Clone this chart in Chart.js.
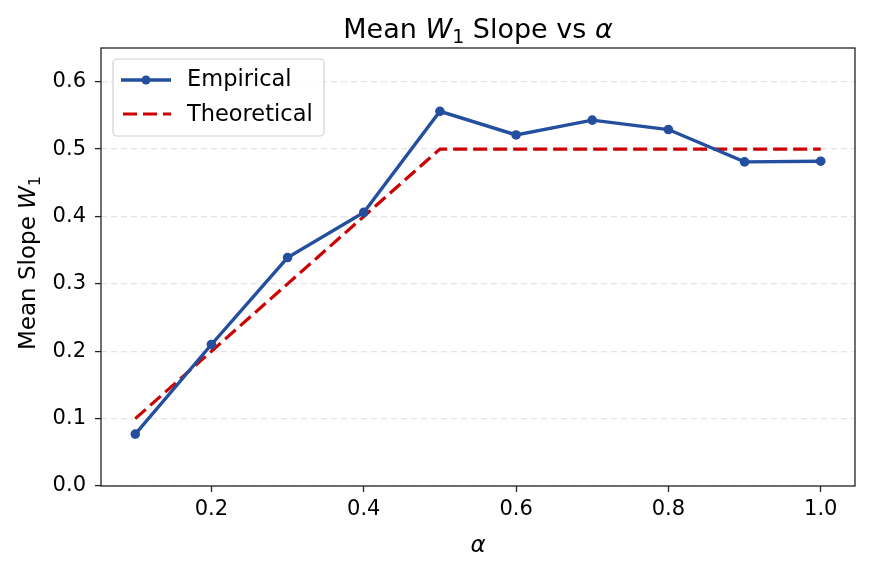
<!DOCTYPE html>
<html lang="en">
<head>
  <meta charset="UTF-8" />
  <title>Mean W1 Slope vs alpha</title>
  <script src="https://cdn.jsdelivr.net/npm/chart.js"></script>
  <style>
    html, body { margin: 0; padding: 0; background: #fff; }
  </style>
</head>
<body>
  <canvas id="chart" width="871" height="571"></canvas>

  <script>
    const alphas = [0.1, 0.2, 0.3, 0.4, 0.5, 0.6, 0.7, 0.8, 0.9, 1.0];
    const empirical = [0.077, 0.210, 0.339, 0.406, 0.556, 0.521, 0.543, 0.529, 0.481, 0.482];
    const theoretical = [0.1, 0.2, 0.3, 0.4, 0.5, 0.5, 0.5, 0.5, 0.5, 0.5];
    const xTicks = [0.2, 0.4, 0.6, 0.8, 1.0];
    const yTicks = [0.0, 0.1, 0.2, 0.3, 0.4, 0.5, 0.6];

    const FONT = "'DejaVu Sans', sans-serif";
    const BLUE = '#234f9e';
    const RED = '#cc0000';

    // draw text made of pieces with different styles (italic, subscript)
    function drawRich(ctx, parts, x, y, rot) {
      ctx.save();
      let total = 0;
      parts.forEach(p => {
        ctx.font = (p.i ? 'italic ' : '') + p.s + 'px ' + FONT;
        p.w = ctx.measureText(p.t).width;
        total += p.w;
      });
      ctx.translate(x, y);
      if (rot) ctx.rotate(rot);
      ctx.textBaseline = 'alphabetic';
      ctx.fillStyle = '#000';
      let cx = -total / 2;
      parts.forEach(p => {
        ctx.font = (p.i ? 'italic ' : '') + p.s + 'px ' + FONT;
        ctx.fillText(p.t, cx, p.dy || 0);
        cx += p.w;
      });
      ctx.restore();
    }

    const decorations = {
      id: 'decorations',
      afterDraw(chart) {
        const ctx = chart.ctx;
        const a = chart.chartArea;

        // frame around the plot
        ctx.save();
        ctx.strokeStyle = '#222';
        ctx.lineWidth = 1.3;
        ctx.strokeRect(a.left, a.top, a.right - a.left, a.bottom - a.top);
        ctx.restore();

        const mid = (a.left + a.right) / 2;
        drawRich(ctx, [
          { t: 'Mean ', s: 27 },
          { t: 'W', s: 27, i: true },
          { t: '1', s: 19, dy: 5 },
          { t: ' Slope vs ', s: 27 },
          { t: 'α', s: 27, i: true }
        ], mid, 38);

        drawRich(ctx, [{ t: 'α', s: 23, i: true }], mid, 552);

        drawRich(ctx, [
          { t: 'Mean Slope ', s: 23 },
          { t: 'W', s: 23, i: true },
          { t: '1', s: 16, dy: 5 }
        ], 35, 263, -Math.PI / 2);

        // legend
        const lx = 113, ly = 59, lw = 211, lh = 77;
        ctx.save();
        ctx.beginPath();
        ctx.roundRect(lx, ly, lw, lh, 4);
        ctx.fillStyle = 'rgba(255,255,255,0.85)';
        ctx.fill();
        ctx.strokeStyle = '#d0d0d0';
        ctx.lineWidth = 1.2;
        ctx.stroke();

        ctx.lineWidth = 3.3;
        ctx.strokeStyle = BLUE;
        ctx.beginPath();
        ctx.moveTo(121, 80);
        ctx.lineTo(171, 80);
        ctx.stroke();
        ctx.fillStyle = BLUE;
        ctx.beginPath();
        ctx.arc(146, 80, 4.5, 0, Math.PI * 2);
        ctx.fill();

        ctx.strokeStyle = RED;
        ctx.lineWidth = 3;
        ctx.setLineDash([14, 6]);
        ctx.beginPath();
        ctx.moveTo(123, 114);
        ctx.lineTo(171, 114);
        ctx.stroke();
        ctx.setLineDash([]);

        ctx.fillStyle = '#000';
        ctx.font = '22.5px ' + FONT;
        ctx.textBaseline = 'middle';
        ctx.fillText('Empirical', 187, 80);
        ctx.fillText('Theoretical', 187, 115);
        ctx.restore();
      }
    };

    new Chart(document.getElementById('chart'), {
      type: 'line',
      data: {
        datasets: [
          {
            label: 'Empirical',
            data: alphas.map((a, i) => ({ x: a, y: empirical[i] })),
            borderColor: BLUE,
            backgroundColor: BLUE,
            borderWidth: 3.4,
            pointRadius: 4.8,
            pointBorderWidth: 0,
            pointHoverRadius: 4.8,
            tension: 0
          },
          {
            label: 'Theoretical',
            data: alphas.map((a, i) => ({ x: a, y: theoretical[i] })),
            borderColor: RED,
            backgroundColor: RED,
            borderWidth: 3.2,
            borderDash: [14, 6],
            pointRadius: 0,
            tension: 0
          }
        ]
      },
      options: {
        responsive: false,
        animation: false,
        devicePixelRatio: 1,
        layout: { padding: { top: 48, right: 16, left: 0, bottom: 0 } },
        plugins: {
          legend: { display: false },
          title: { display: false },
          tooltip: { enabled: false }
        },
        scales: {
          x: {
            type: 'linear',
            min: 0.055,
            max: 1.045,
            afterBuildTicks: s => { s.ticks = xTicks.map(v => ({ value: v })); },
            afterFit: s => { s.height = 85; },
            border: { display: false },
            grid: {
              drawOnChartArea: false,
              drawTicks: true,
              tickLength: 6,
              tickColor: '#222',
              tickWidth: 1.3
            },
            ticks: {
              color: '#000',
              font: { family: FONT, size: 21 },
              padding: 5,
              maxRotation: 0,
              callback: v => v.toFixed(1)
            }
          },
          y: {
            min: 0,
            max: 0.65,
            afterBuildTicks: s => { s.ticks = yTicks.map(v => ({ value: v })); },
            afterFit: s => { s.width = 101; },
            border: { display: false, dash: [6, 4] },
            grid: {
              color: '#e4e4e4',
              lineWidth: 1.2,
              tickLength: 6,
              tickColor: '#222',
              tickWidth: 1.3,
              tickBorderDash: []
            },
            ticks: {
              color: '#000',
              font: { family: FONT, size: 21 },
              padding: 9,
              callback: v => v.toFixed(1)
            }
          }
        }
      },
      plugins: [decorations]
    });
  </script>
</body>
</html>
